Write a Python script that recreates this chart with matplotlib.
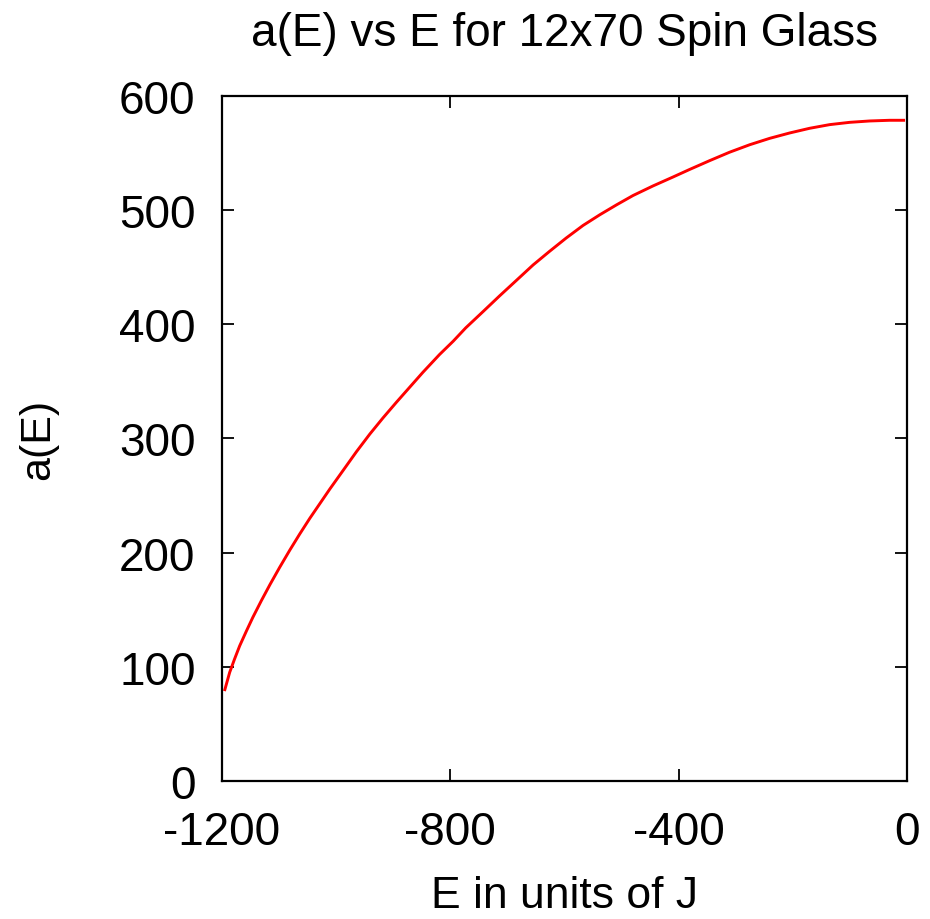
import matplotlib
matplotlib.use("Agg")
import matplotlib.pyplot as plt

# a(E) curve, sampled energies (units of J) and values
energy = [-1195, -1186.5, -1178, -1169, -1157, -1146, -1131, -1116, -1099, -1081,
          -1064, -1046, -1011, -988, -964.5, -941, -918, -894.5, -871, -848,
          -819, -795, -773, -743, -713.5, -684, -655, -626, -597, -567.5,
          -538, -509, -480, -445, -410, -381, -346, -311, -275.5, -240.5,
          -205.5, -170.5, -135.5, -100.5, -65.5, -30.5, -6]
a_values = [80.0, 95.2, 106.8, 118.4, 131.6, 143.3, 158.0, 172.0, 187.1, 202.4,
            216.2, 230.2, 255.8, 271.9, 288.4, 303.9, 318.0, 331.7, 345.0, 358.0,
            373.5, 385.2, 396.9, 411.0, 425.0, 438.6, 452.0, 464.0, 475.6, 486.6,
            496.0, 504.6, 512.8, 521.2, 529.0, 535.6, 543.3, 550.7, 557.3, 562.9,
            567.6, 571.7, 574.9, 576.9, 578.1, 578.7, 578.7]

x_ticks = [-1200, -800, -400, 0]
y_ticks = [0, 100, 200, 300, 400, 500, 600]

plt.rcParams["font.family"] = ["Liberation Sans", "DejaVu Sans"]
plt.rcParams["axes.unicode_minus"] = False

fig = plt.figure(figsize=(9.3, 9.2), dpi=100)
ax = fig.add_axes([0.2387, 0.15, 0.7366, 0.7446])

ax.plot(energy, a_values, color="#ff0000", linewidth=2.1)

ax.set_xlim(-1200, 0)
ax.set_ylim(0, 600)
ax.set_xticks(x_ticks)
ax.set_yticks(y_ticks)
ax.tick_params(direction="in", length=8.5, width=1.3, labelsize=33,
               top=True, right=True)
ax.tick_params(axis="x", pad=21)
ax.tick_params(axis="y", pad=19)
for side in ax.spines.values():
    side.set_linewidth(1.6)

ax.set_title("a(E) vs E for 12x70 Spin Glass", fontsize=33, pad=37)
ax.set_xlabel("E in units of J", fontsize=32, labelpad=15)
ax.set_ylabel("a(E)", fontsize=31, labelpad=44)

fig.savefig("out.png", dpi=100)
